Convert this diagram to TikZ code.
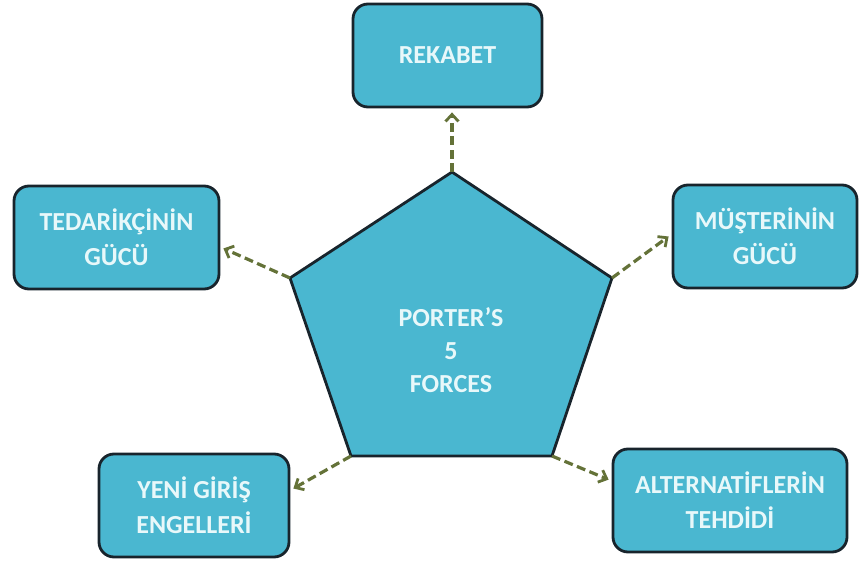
\documentclass[tikz,border=0pt]{standalone}
\usepackage{fontspec}
\setmainfont{Carlito}
\usetikzlibrary{arrows.meta}
\definecolor{forcefill}{RGB}{74,183,208}
\definecolor{forceline}{RGB}{24,36,44}
\definecolor{forcetext}{RGB}{232,248,250}
\definecolor{arrowgreen}{RGB}{100,114,56}
\tikzset{
  forcebox/.style={draw=forceline, fill=forcefill, line width=2.8pt, rounded corners=15pt,
    minimum height=103pt, align=center, text=forcetext, font=\fontsize{26}{35}\selectfont\bfseries},
  forcearrow/.style={draw=arrowgreen, line width=3.2pt, dash pattern=on 9pt off 4.5pt,
    -{Straight Barb[length=7pt,width=13pt,line width=2.8pt]}}
}
\begin{document}
\begin{tikzpicture}[x=1pt,y=-1pt]
        \useasboundingbox (0,0) rectangle (860,565);

        \coordinate (ptop) at (452,172);
        \coordinate (pright) at (612,278);
        \coordinate (pbr) at (552,456);
        \coordinate (pbl) at (351,456);
        \coordinate (pleft) at (290,278);
        \filldraw[draw=forceline, fill=forcefill, line width=2.8pt]
            (ptop) -- (pright) -- (pbr) -- (pbl) -- (pleft) -- cycle;
        \node[align=center, text=forcetext, font=\fontsize{26}{33}\selectfont\bfseries] (porter) at (451,350) {PORTER’S\\5\\FORCES};

        \node[forcebox, minimum width=189pt] (rekabet) at (447.5,55.5) {REKABET};
        \node[forcebox, minimum width=205pt] (tedarik) at (116.5,237.5) {TEDARİKÇİNİN\\GÜCÜ};
        \node[forcebox, minimum width=184pt] (musteri) at (765,236.5) {MÜŞTERİNİN\\GÜCÜ};
        \node[forcebox, minimum width=190pt] (yenigiris) at (194,505.5) {YENİ GİRİŞ\\ENGELLERİ};
        \node[forcebox, minimum width=234pt] (alternatif) at (730,500.5) {ALTERNATİFLERİN\\TEHDİDİ};

        \draw[forcearrow] (ptop) -- ([yshift=-4pt]ptop |- rekabet.south);
        \draw[forcearrow] (pleft) -- ([xshift=3pt]tedarik.-6);
        \draw[forcearrow] (pright) -- ([xshift=-3pt]musteri.west);
        \draw[forcearrow] (pbl) -- ([xshift=3pt]yenigiris.10);
        \draw[forcearrow] (pbr) -- ([xshift=-3pt]alternatif.170);
\end{tikzpicture}
\end{document}
